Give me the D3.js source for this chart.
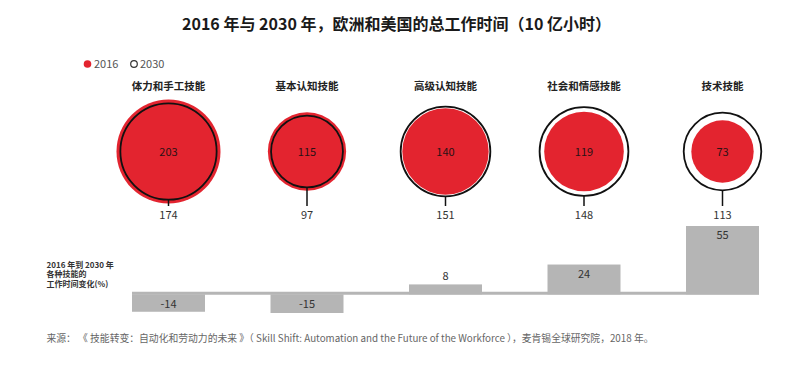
<!DOCTYPE html>
<html>
<head>
<meta charset="utf-8">
<script src="https://cdn.jsdelivr.net/npm/d3@7/dist/d3.min.js"></script>
<style>
  body { margin: 0; background: #fff; }
  svg { display: block; font-family: "Noto Sans CJK SC", "Noto Sans", sans-serif; }
</style>
</head>
<body>
<svg width="785" height="371"></svg>
<script>
var skills = ["体力和手工技能", "基本认知技能", "高级认知技能", "社会和情感技能", "技术技能"];
var hours2016 = [203, 115, 140, 119, 73];
var hours2030 = [174, 97, 151, 148, 113];
var change = [-14, -15, 8, 24, 55];
var legendLabels = ["2016", "2030"];
var noteLines = ["2016 年到 2030 年", "各种技能的", "工作时间变化(%)"];

var red = "#e3242f",
    grey = "#b5b5b5";

var svg = d3.select("svg"),
    width = +svg.attr("width");

// columns: ~73px bars on a ~138px step
var x = d3.scaleBand()
    .domain(skills)
    .range([132, 759])
    .paddingInner(1 - 73 / 138.5)
    .paddingOuter(0);

var cx = function (d) { return x(d) + x.bandwidth() / 2; };

var r = d3.scaleSqrt().domain([0, 203]).range([0, 52]);
var y = d3.scaleLinear().domain([-15, 55]).range([313, 226]);

var cy = 151.5;

// title
svg.append("text")
    .attr("x", width / 2 + 4)
    .attr("y", 30)
    .attr("text-anchor", "middle")
    .attr("font-size", 16)
    .attr("font-weight", "bold")
    .attr("fill", "#1a1a1a")
    .text("2016 年与 2030 年，欧洲和美国的总工作时间（10 亿小时）");

// legend
var legend = svg.append("g").attr("class", "legend");
legend.append("circle").attr("cx", 87.5).attr("cy", 64).attr("r", 3.8).attr("fill", red);
legend.append("text").attr("x", 94).attr("y", 68).attr("font-size", 11).attr("fill", "#555").text(legendLabels[0]);
legend.append("circle").attr("cx", 134).attr("cy", 64).attr("r", 3.3)
    .attr("fill", "none").attr("stroke", "#333").attr("stroke-width", 1.2);
legend.append("text").attr("x", 140).attr("y", 68).attr("font-size", 11).attr("fill", "#555").text(legendLabels[1]);

// category labels
svg.append("g")
    .selectAll("text")
    .data(skills)
    .enter()
    .append("text")
    .attr("x", cx)
    .attr("y", 90)
    .attr("text-anchor", "middle")
    .attr("font-size", 10.5)
    .attr("font-weight", "bold")
    .attr("fill", "#222")
    .text(function (d) { return d; });

// circles
var node = svg.append("g")
    .attr("class", "nodes")
    .selectAll("g")
    .data(skills)
    .enter()
    .append("g");

node.append("circle")
    .attr("cx", cx)
    .attr("cy", cy)
    .attr("r", function (d, i) { return r(hours2016[i]); })
    .attr("fill", red);

node.append("circle")
    .attr("cx", cx)
    .attr("cy", cy)
    .attr("r", function (d, i) { return r(hours2030[i]); })
    .attr("fill", "none")
    .attr("stroke", "#111")
    .attr("stroke-width", 1.8);

node.append("line")
    .attr("x1", cx)
    .attr("x2", cx)
    .attr("y1", function (d, i) { return cy + r(hours2030[i]); })
    .attr("y2", 206)
    .attr("stroke", "#111")
    .attr("stroke-width", 1.5);

node.append("text")
    .attr("x", cx)
    .attr("y", cy + 4)
    .attr("text-anchor", "middle")
    .attr("font-size", 11)
    .attr("fill", "#2a1215")
    .text(function (d, i) { return hours2016[i]; });

node.append("text")
    .attr("x", cx)
    .attr("y", 219)
    .attr("text-anchor", "middle")
    .attr("font-size", 11)
    .attr("fill", "#333")
    .text(function (d, i) { return hours2030[i]; });

// change bars
svg.append("line")
    .attr("x1", x.range()[0])
    .attr("x2", x.range()[1])
    .attr("y1", y(0) - 1)
    .attr("y2", y(0) - 1)
    .attr("stroke", grey)
    .attr("stroke-width", 3);

var bars = svg.append("g")
    .attr("class", "bars")
    .selectAll("g")
    .data(skills)
    .enter()
    .append("g");

bars.append("rect")
    .attr("x", function (d) { return x(d); })
    .attr("width", x.bandwidth())
    .attr("y", function (d, i) { return y(Math.max(0, change[i])); })
    .attr("height", function (d, i) { return Math.abs(y(change[i]) - y(0)); })
    .attr("fill", grey);

bars.append("text")
    .attr("x", cx)
    .attr("y", function (d, i) {
        var v = change[i];
        if (v < 0) return y(0) + 14;
        if (v < 12) return y(v) - 4;
        return y(v) + 13;
    })
    .attr("text-anchor", "middle")
    .attr("font-size", 11)
    .attr("fill", "#333")
    .text(function (d, i) { return change[i]; });

// side note
svg.append("g")
    .selectAll("text")
    .data(noteLines)
    .enter()
    .append("text")
    .attr("x", 46.5)
    .attr("y", function (d, i) { return 267.5 + i * 9.5; })
    .attr("font-size", 8)
    .attr("font-weight", "bold")
    .attr("fill", "#333")
    .text(function (d) { return d; });

// source
svg.append("text")
    .attr("x", 46.5)
    .attr("y", 342)
    .attr("font-size", 9.8)
    .attr("fill", "#666")
    .attr("xml:space", "preserve")
    .style("white-space", "pre")
    .text("来源： 《 技能转变：自动化和劳动力的未来 》（ Skill Shift: Automation and the Future of the Workforce ），麦肯锡全球研究院，2018 年。");
</script>
</body>
</html>
